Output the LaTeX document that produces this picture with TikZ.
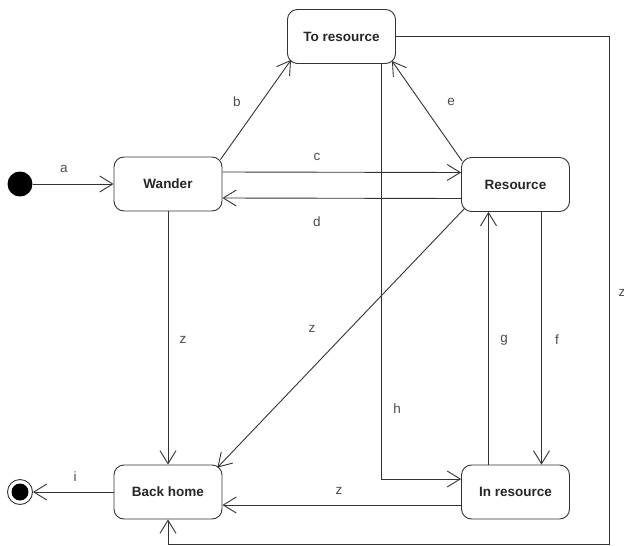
\documentclass[tikz,border=0pt]{standalone}
\usepackage{fontspec}
\setmainfont{Liberation Sans}
\usetikzlibrary{arrows.meta}
\definecolor{linegray}{rgb}{0.2,0.2,0.2}

\begin{document}
\begin{tikzpicture}[x=1pt,y=-1pt,line width=0.9pt,draw=linegray,>={Straight Barb[length=13pt,width=16pt]},
  state/.style={draw,rounded corners=10pt,minimum width=108pt,minimum height=54pt,
    font=\fontsize{13.5}{16}\selectfont\bfseries,text=black!85},
  lbl/.style={font=\fontsize{13.5}{16}\selectfont,text=black!70}]
  \useasboundingbox (0,0) rectangle (624,546);
  \node[circle,fill=black,minimum size=25pt,inner sep=0pt] (init) at (20,184) {};
  \node[circle,draw,minimum size=25pt,inner sep=0pt] (final) at (20,492) {};
  \fill[black] (final) circle (8.5);
  \node[state] (ToRes) at (341.5,36.5) {To resource};
  \node[state] (Wander) at (168,184) {Wander};
  \node[state] (Resource) at (515.5,184.5) {Resource};
  \node[state] (BackHome) at (168,492) {Back home};
  \node[state] (InRes) at (515.5,492) {In resource};
  \coordinate (loop) at (609,544);
  \draw[->] (init) -- (Wander.west);
  \draw[->] ([xshift=-2pt,yshift=-3pt]Wander.north east) -- ([xshift=4pt,yshift=4pt]ToRes.south west);
  \draw[->] ([yshift=12pt]Wander.east) -- ([yshift=12pt]Resource.west);
  \draw[->] ([yshift=-14pt]Resource.west) -- ([yshift=-14pt]Wander.east);
  \draw[->] ([xshift=1pt,yshift=-4pt]Resource.north west) -- ([xshift=-4pt,yshift=3pt]ToRes.south east);
  \draw[->] (Wander.south) -- (BackHome.north);
  \draw[->] ([xshift=4pt,yshift=4pt]Resource.south west) -- ([xshift=-5pt,yshift=-3pt]BackHome.north east);
  \draw[->] ([xshift=40pt]ToRes.south) |- ([yshift=13pt]InRes.west);
  \draw[->] ([xshift=-27pt]InRes.north) -- ([xshift=-27pt]Resource.south);
  \draw[->] ([xshift=26pt]Resource.south) -- ([xshift=26pt]InRes.north);
  \draw[->] ([yshift=-13pt]InRes.west) -- ([yshift=-13pt]BackHome.east);
  \draw[->] (ToRes.east) -| (loop) -| (BackHome.south);
  \draw[->] (BackHome.west) -- (final);
  % transition labels
  \node[lbl] (la) at (64,169) {a};
  \node[lbl] (lb) at (237,102) {b};
  \node[lbl] (lc) at (317,157) {c};
  \node[lbl] (ld) at (317,222) {d};
  \node[lbl] (le) at (451,102) {e};
  \node[lbl] (lz1) at (183,340) {z};
  \node[lbl] (lz2) at (312,329) {z};
  \node[lbl] (lh) at (397,409) {h};
  \node[lbl] (lg) at (504,340) {g};
  \node[lbl] (lf) at (557,340) {f};
  \node[lbl] (lz3) at (339,491) {z};
  \node[lbl] (lz4) at (622,293) {z};
  \node[lbl] (li) at (75,477) {i};
\end{tikzpicture}
\end{document}
